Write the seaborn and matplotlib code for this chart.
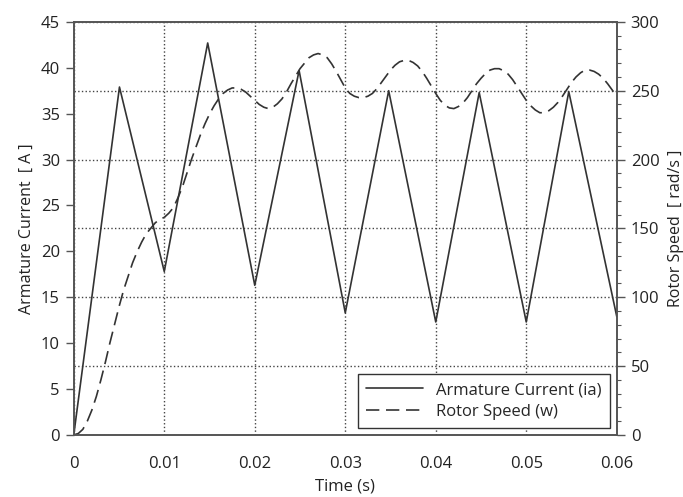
import matplotlib
matplotlib.use("Agg")
import matplotlib.pyplot as plt
import seaborn as sns
import pandas as pd
from matplotlib.ticker import MultipleLocator

# Armature current (triangle wave vertices)
t_current = [0.0, 0.00505, 0.0100, 0.0148, 0.0200, 0.0249, 0.0300, 0.0348, 0.0400, 0.0448, 0.0500, 0.0547, 0.0600]
ia = [0.0, 37.9, 17.8, 42.7, 16.3, 39.7, 13.3, 37.5, 12.3, 37.3, 12.3, 37.4, 12.9]

# Rotor speed samples (rad/s), read every 0.5 ms
t_speed = [i * 0.0005 for i in range(121)]
w = [0, 1, 4, 10, 18, 28, 40, 53, 67, 80,
     93, 105, 115, 125, 133, 140, 146, 150, 154, 156.5,
     158, 161, 165, 172, 180, 190, 200, 209, 218, 226,
     233, 239, 244, 248, 250.5, 252, 252, 251, 249, 246,
     243, 240, 238, 237, 238, 240.5, 244, 249, 255, 260.5,
     266, 270, 274, 276, 277, 276, 274, 269.5, 264, 258,
     252, 248, 246, 245, 245, 246, 248, 251.5, 256, 260.5,
     265, 268.5, 271, 272, 272, 270.5, 268, 264, 259, 253.5,
     248, 243, 239.5, 237.5, 237, 238.5, 241, 245, 250, 255,
     259, 262.5, 265, 266, 266, 264.5, 262, 258, 253, 248,
     243, 239, 236, 234, 234, 235.5, 238, 241.5, 246, 251,
     256, 260, 263, 265, 265, 264, 262, 259, 255, 250.5,
     246]

x_ticks = [0, 0.01, 0.02, 0.03, 0.04, 0.05, 0.06]
x_tick_labels = ["0", "0.01", "0.02", "0.03", "0.04", "0.05", "0.06"]

sns.set_theme(style="white")
plt.rcParams['font.family'] = ['Open Sans', 'DejaVu Sans']
dark = "#333333"
plt.rcParams.update({
    "axes.edgecolor": "#555555",
    "xtick.color": "#555555",
    "ytick.color": "#555555",
    "xtick.labelcolor": "#222222",
    "ytick.labelcolor": "#222222",
})

df_i = pd.DataFrame({"t": t_current, "ia": ia})
df_w = pd.DataFrame({"t": t_speed, "w": w})

fig = plt.figure(figsize=(6.83, 4.97), dpi=100)
ax = fig.add_axes([0.108, 0.125, 0.795, 0.831])
ax2 = ax.twinx()

sns.lineplot(data=df_i, x="t", y="ia", ax=ax, color=dark, lw=1.2, label="Armature Current (ia)", legend=False)
sns.lineplot(data=df_w, x="t", y="w", ax=ax2, color=dark, lw=1.2, label="Rotor Speed (w)", legend=False)
ax2.lines[0].set_dashes([8, 4])

ax.set_xlim(0, 0.06)
ax.set_ylim(0, 45)
ax2.set_ylim(0, 300)
ax.set_xticks(x_ticks)
ax.set_xticklabels(x_tick_labels)
ax.xaxis.set_minor_locator(MultipleLocator(0.005))
ax.yaxis.set_major_locator(MultipleLocator(5))
ax2.yaxis.set_major_locator(MultipleLocator(50))
ax2.yaxis.set_minor_locator(MultipleLocator(10))

for a in (ax, ax2):
    a.tick_params(which="major", direction="out", length=6, width=1, labelsize=12, pad=4)
    a.tick_params(which="minor", direction="out", length=3, width=0.8)
    for s in a.spines.values():
        s.set_linewidth(1.2)
        s.set_color("#555555")
ax.tick_params(axis="x", which="major", pad=9)

ax.grid(True, axis="x", which="major", ls=":", color="#444444", lw=1)
ax2.grid(True, axis="y", which="major", ls=":", color="#444444", lw=1)
ax.set_zorder(ax2.get_zorder() + 1)
ax.patch.set_visible(False)
ax2.set_zorder(0)

ax.set_xlabel("Time (s)", fontsize=12, color="#222222", labelpad=5)
ax.set_ylabel("Armature Current  [ A ]", fontsize=11.5, color="#222222", labelpad=4)
ax2.set_ylabel("Rotor Speed  [ rad/s ]", fontsize=11.5, color="#222222", labelpad=6)

h1, l1 = ax.get_legend_handles_labels()
h2, l2 = ax2.get_legend_handles_labels()
leg = ax.legend(h1 + h2, l1 + l2, loc="lower right", fancybox=False, frameon=True,
                fontsize=12, handlelength=3.4, borderaxespad=0.4, framealpha=1,
                borderpad=0.5, labelspacing=0.35)
leg.get_frame().set_edgecolor("#333333")
leg.get_frame().set_linewidth(1)

fig.savefig("out.png", dpi=100)
